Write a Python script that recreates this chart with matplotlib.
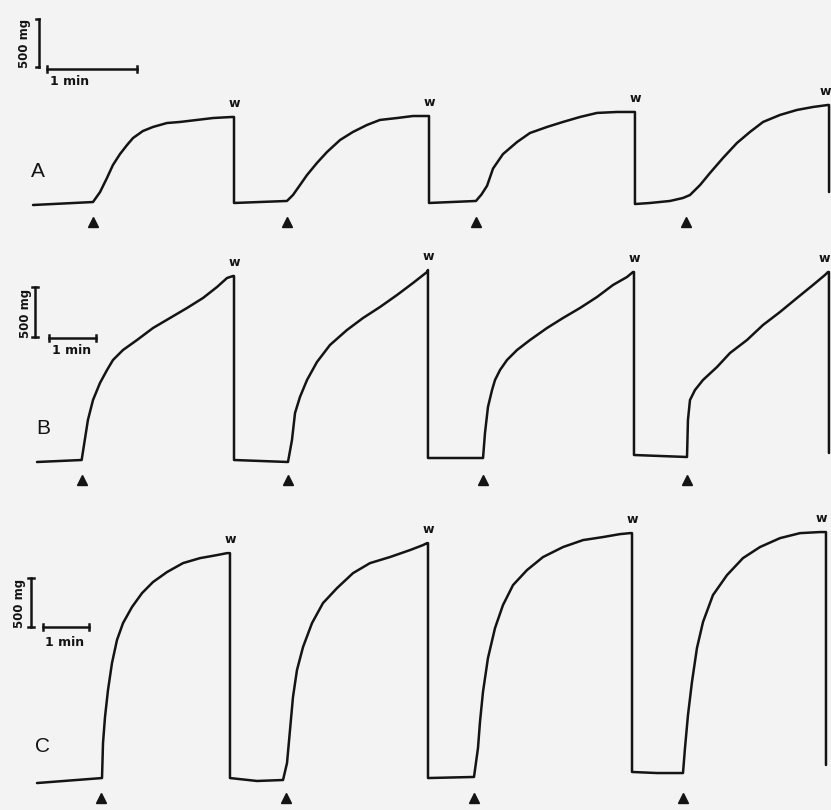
import matplotlib
matplotlib.use("Agg")
import matplotlib.pyplot as plt

# ---------------- data (time in s, tension in mg) ----------------
# Panel A
A_t = [0, 40, 44.7, 49.3, 53.3, 58, 62.7, 66.7, 73.3, 80, 89.3, 98, 109.3, 120, 132.7, 134, 134,
       169.3, 173.3, 178, 182.7, 189.3, 196, 204.7, 213.3, 222.7, 231.3, 242.7, 253.3, 262.7, 264, 264,
       295.3, 299, 302.7, 306.7, 313.3, 322.7, 331.3, 342.7, 353.3, 364.7, 376, 389.3, 400, 401.3, 401.3,
       411.3, 424.7, 433.3, 438, 444.7, 451.3, 460, 469.3, 478, 486.7, 498, 509.3, 520, 530, 530.7, 530.7]
A_mg = [0, 31, 135, 281, 417, 531, 625, 698, 771, 813, 854, 865, 886, 906, 917, 917, 21,
        42, 104, 208, 313, 438, 552, 677, 761, 834, 886, 906, 927, 927, 927, 21,
        42, 110, 200, 380, 530, 656, 750, 813, 865, 917, 959, 969, 969, 969, 10,
        21, 42, 73, 104, 208, 333, 490, 646, 761, 865, 938, 990, 1021, 1042, 1042, 135]
A_onsets = [40, 169, 295, 435]
A_washes = [134, 264, 401.3, 530.7]

# Panel B
B_t = [0, 57, 61, 65, 71.5, 80.4, 89.4, 97, 109.8, 127.7, 148.1, 169.8, 191.5, 211.9, 229.8, 242.6,
       250.2, 251.5, 251.5,
       320.4, 325.5, 329.4, 335.7, 344.7, 357.4, 374, 395.7, 416.2, 437.9, 459.6, 480, 497.9, 499.1, 499.1,
       552.8, 569.4, 571.9, 575.7, 580.9, 584.7, 591.1, 600, 612.8, 629.4, 651.1, 671.5, 693.2, 714.9,
       735.3, 753.2, 760.9, 762.1, 762.1,
       829.8, 831, 833.6, 840, 850.2, 868.1, 884.7, 906.4, 926.8, 948.5, 970.2, 990.6, 1005.9, 1009.8,
       1011, 1011]
B_mg = [-20, 0, 200, 400, 600, 770, 900, 1000, 1100, 1200, 1320, 1420, 1520, 1620, 1730, 1820,
        1840, 1840, 0,
        -20, 200, 470, 630, 800, 980, 1150, 1300, 1420, 1530, 1650, 1770, 1880, 1900, 20,
        20, 20, 270, 530, 700, 800, 900, 1000, 1100, 1200, 1320, 1420, 1520, 1630,
        1750, 1830, 1880, 1880, 50,
        30, 400, 600, 700, 800, 930, 1070, 1200, 1350, 1480, 1620, 1750, 1850, 1880,
        1880, 70]
B_onsets = [57, 320, 569, 830]
B_washes = [251.5, 499.1, 762.1, 1011]

# Panel C
C_t = [0, 84.8, 86.1, 88.7, 92.6, 97.8, 104.3, 112.2, 123.9, 137, 151.3, 169.6, 190.4, 212.6, 234.8,
       247.8, 251.7, 251.7,
       287, 320.9, 326.1, 330, 333.9, 339.1, 347, 358.7, 373, 391.3, 412.2, 434.3, 460.4, 486.5, 503.5,
       508.7, 510, 510,
       570, 575.2, 577.8, 581.7, 588.2, 597.4, 607.8, 620.9, 639.1, 660, 686.1, 712.2, 738.2, 760.4,
       773.4, 776.1, 776.1,
       808.7, 842.6, 845.2, 849.1, 854.3, 860.8, 868.7, 881.7, 900, 920.8, 943, 969.1, 995.2, 1021.3,
       1029.1, 1029.1]
C_mg = [-31, 20, 377, 643, 918, 1193, 1428, 1601, 1765, 1907, 2020, 2122, 2213, 2264, 2295,
        2315, 2315, 20,
        -10, 0, 173, 510, 847, 1122, 1357, 1601, 1805, 1958, 2111, 2213, 2275, 2346, 2397,
        2417, 2417, 20,
        31, 326, 592, 898, 1244, 1550, 1785, 1989, 2142, 2275, 2377, 2448, 2479, 2509,
        2519, 2519, 82,
        71, 71, 326, 663, 1000, 1346, 1612, 1887, 2091, 2264, 2377, 2468, 2519, 2530,
        2530, 153]
C_onsets = [84, 325, 570, 843]
C_washes = [251.7, 510, 776.1, 1029.1]

panel_labels = ["A", "B", "C"]
wash_label = "w"
scale_mg = 500      # mg
scale_s = 60        # s
scale_mg_text = "500 mg"
scale_s_text = "1 min"

# ---------------- layout (pixels of the 831x810 figure) ----------------
W, H = 831, 810
layout = {
    # x0,y0: pixel of (t=0, 0 mg); pps: px per s; ppm: px per mg
    "A": dict(x0=33, y0=205, pps=1.5, ppm=48 / 500,
              vbar=(4, 1438), hbar=(9.3, 1417), vtext=(-5.5, 1688), htext=(24.7, 1282),
              label=(3.3, 344), arrow_mg=-177, bracket=True),
    "B": dict(x0=37, y0=460, pps=47 / 60, ppm=50 / 500,
              vbar=(-2.6, 1230), hbar=(15.3, 1220), vtext=(-15.3, 1470), htext=(44.7, 1100),
              label=(7.7, 320), arrow_mg=-200, bracket=False),
    "C": dict(x0=37, y0=780, pps=46 / 60, ppm=49 / 500,
              vbar=(-7.8, 1561), hbar=(7.8, 1561), vtext=(-22.2, 1805), htext=(36.5, 1408),
              label=(7.8, 337), arrow_mg=-184, bracket=False),
}

panels = [("A", A_t, A_mg, A_onsets, A_washes),
          ("B", B_t, B_mg, B_onsets, B_washes),
          ("C", C_t, C_mg, C_onsets, C_washes)]

ink = "#141414"
fig = plt.figure(figsize=(W / 100, H / 100), dpi=100)
fig.patch.set_facecolor("#f3f3f3")

for name, t, mg, onsets, washes in panels:
    L = layout[name]
    ax = fig.add_axes([0, 0, 1, 1])
    ax.set_xlim(-L["x0"] / L["pps"], (W - L["x0"]) / L["pps"])
    ax.set_ylim((L["y0"] - H) / L["ppm"], L["y0"] / L["ppm"])
    ax.axis("off")
    ax.patch.set_alpha(0)

    ax.plot(t, mg, color=ink, lw=1.8, solid_joinstyle="round", solid_capstyle="round")

    # stimulus arrows
    ax.plot(onsets, [L["arrow_mg"]] * len(onsets), linestyle="none", marker="^",
            markersize=7, color=ink, clip_on=False)

    # wash labels
    for i, wt in enumerate(washes):
        top = max(m for tt, m in zip(t, mg) if tt == wt)
        dx = -3 if i == len(washes) - 1 else 0
        ax.annotate(wash_label, (wt, top), xytext=(dx, 10), textcoords="offset points",
                    ha="center", va="center", fontsize=9, fontweight="bold",
                    color=ink, annotation_clip=False)

    # vertical scale bar
    vx, vy = L["vbar"]
    ax.plot([vx, vx], [vy, vy + scale_mg], color=ink, lw=1.8)
    serif = 3 / L["pps"]
    if L["bracket"]:
        ax.plot([vx - serif, vx], [vy, vy], color=ink, lw=1.8)
        ax.plot([vx - serif, vx], [vy + scale_mg, vy + scale_mg], color=ink, lw=1.8)
    else:
        ax.plot([vx - serif, vx + serif], [vy, vy], color=ink, lw=1.8)
        ax.plot([vx - serif, vx + serif], [vy + scale_mg, vy + scale_mg], color=ink, lw=1.8)
    ax.text(*L["vtext"], scale_mg_text, rotation=90, ha="center", va="center",
            fontsize=8.5, fontweight="bold", color=ink)

    # horizontal scale bar
    hx, hy = L["hbar"]
    ax.plot([hx, hx + scale_s], [hy, hy], color=ink, lw=1.8)
    vser = 3 / L["ppm"]
    ax.plot([hx, hx], [hy - vser, hy + vser], color=ink, lw=1.8)
    ax.plot([hx + scale_s, hx + scale_s], [hy - vser, hy + vser], color=ink, lw=1.8)
    ax.text(*L["htext"], scale_s_text, ha="center", va="center",
            fontsize=9, fontweight="bold", color=ink)

    # panel label
    ax.text(*L["label"], name, ha="center", va="center", fontsize=15,
            family="Liberation Sans", color=ink)

fig.savefig("out.png", dpi=100, facecolor=fig.get_facecolor())
